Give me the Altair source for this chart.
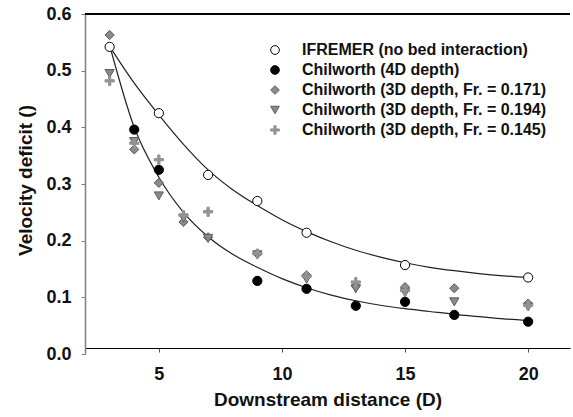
import altair as alt
import pandas as pd

FONT = "Liberation Sans"

series_names = [
    "IFREMER (no bed interaction)",
    "Chilworth (4D depth)",
    "Chilworth (3D depth, Fr. = 0.171)",
    "Chilworth (3D depth, Fr. = 0.194)",
    "Chilworth (3D depth, Fr. = 0.145)",
]

ifremer_x = [3, 5, 7, 9, 11, 15, 20]
ifremer_y = [0.542, 0.425, 0.316, 0.270, 0.214, 0.157, 0.135]

d4_x = [4, 5, 9, 11, 13, 15, 17, 20]
d4_y = [0.396, 0.325, 0.129, 0.115, 0.085, 0.092, 0.069, 0.057]

fr171_x = [3, 4, 5, 6, 7, 9, 11, 13, 15, 17, 20]
fr171_y = [0.563, 0.361, 0.302, 0.233, 0.206, 0.177, 0.139, 0.120, 0.118, 0.116, 0.089]

fr194_x = [3, 4, 5, 6, 7, 9, 11, 13, 15, 17, 20]
fr194_y = [0.495, 0.375, 0.279, 0.240, 0.204, 0.175, 0.132, 0.115, 0.108, 0.092, 0.083]

fr145_x = [3, 4, 5, 6, 7, 9, 11, 13, 15, 20]
fr145_y = [0.482, 0.372, 0.343, 0.245, 0.251, 0.177, 0.137, 0.127, 0.112, 0.086]

# fitted curves
fit_x = [3, 4, 5, 6, 7, 8, 9, 10, 11, 12, 13, 14, 15, 16, 17, 18, 19, 20]
fit_ifremer = [0.543, 0.478, 0.422, 0.370, 0.325, 0.290, 0.262, 0.237, 0.216,
               0.198, 0.183, 0.171, 0.161, 0.153, 0.147, 0.142, 0.138, 0.135]
fit_chil = [0.545, 0.400, 0.312, 0.250, 0.207, 0.176, 0.153, 0.133, 0.117,
            0.104, 0.094, 0.086, 0.080, 0.075, 0.070, 0.066, 0.062, 0.059]

y_ticks = [0.0, 0.1, 0.2, 0.3, 0.4, 0.5, 0.6]
x_ticks = [5, 10, 15, 20]

rows = []
for name, xs, ys in zip(series_names,
                        [ifremer_x, d4_x, fr171_x, fr194_x, fr145_x],
                        [ifremer_y, d4_y, fr171_y, fr194_y, fr145_y]):
    for xv, yv in zip(xs, ys):
        rows.append({"series": name, "x": xv, "y": yv})
pts = pd.DataFrame(rows)

fit_rows = []
for name, ys in [("IFREMER fit", fit_ifremer), ("Chilworth fit", fit_chil)]:
    for xv, yv in zip(fit_x, ys):
        fit_rows.append({"curve": name, "x": xv, "y": yv})
fits = pd.DataFrame(fit_rows)

plus_path = "M-1,-0.25H-0.25V-1H0.25V-0.25H1V0.25H0.25V1H-0.25V0.25H-1Z"
shapes = ["circle", "circle", "diamond", "triangle-down", plus_path]
fills = ["#ffffff", "#000000", "#8a8a8a", "#8a8a8a", "#939393"]
strokes = ["#000000", "#000000", "#5c5c5c", "#5c5c5c", "#939393"]

x_axis = alt.Axis(values=x_ticks, grid=False, offset=-6, domainColor="#000000",
                  domainWidth=1.2, tickColor="#555555", tickSize=4,
                  labelFont=FONT, labelFontSize=18, labelFontWeight="bold",
                  labelColor="#111111", labelPadding=13,
                  title="Downstream distance (D)", titleFont=FONT, titleFontSize=19,
                  titleFontWeight="bold", titleColor="#111111", titlePadding=7)
y_axis = alt.Axis(values=y_ticks, format=".1f", grid=False, domainColor="#808080",
                  domainWidth=1.5, tickColor="#808080", tickSize=4,
                  labelFont=FONT, labelFontSize=18, labelFontWeight="bold",
                  labelColor="#111111", labelPadding=10,
                  title="Velocity deficit ()", titleFont=FONT, titleFontSize=19,
                  titleFontWeight="bold", titleColor="#111111", titleX=-50, titleY=166)

xs = alt.Scale(domain=[2, 21.7], nice=False, zero=False)
ys = alt.Scale(domain=[0, 0.6], nice=False, zero=False)

top_line = alt.Chart(pts).mark_rule(color="#000000", strokeWidth=1.2).encode(
    y=alt.value(0)
)

curves = alt.Chart(fits).mark_line(color="#222222", strokeWidth=1.2,
                                   interpolate="monotone").encode(
    x=alt.X("x:Q", scale=xs, axis=x_axis),
    y=alt.Y("y:Q", scale=ys, axis=y_axis),
    detail="curve:N",
)

legend = alt.Legend(orient="none", legendX=182, legendY=28, title=None,
                    labelFont=FONT, labelFontSize=16, labelFontWeight="bold",
                    labelColor="#111111", labelLimit=320, symbolSize=75,
                    symbolStrokeWidth=1, labelOffset=19, rowPadding=4, padding=0)

points = alt.Chart(pts).mark_point(filled=True, size=85, strokeWidth=1, opacity=1).encode(
    x=alt.X("x:Q", scale=xs, axis=x_axis),
    y=alt.Y("y:Q", scale=ys, axis=y_axis),
    shape=alt.Shape("series:N", scale=alt.Scale(domain=series_names, range=shapes),
                    legend=legend, title=None),
    fill=alt.Fill("series:N", scale=alt.Scale(domain=series_names, range=fills),
                  legend=legend, title=None),
    stroke=alt.Stroke("series:N", scale=alt.Scale(domain=series_names, range=strokes),
                      legend=legend, title=None),
)

chart = alt.layer(top_line, curves, points).properties(
    width=485, height=340,
    autosize=alt.AutoSizeParams(type="none"),
    padding={"left": 85, "top": 14, "right": 3, "bottom": 63},
    background="#ffffff",
).configure_view(stroke=None)

chart.save("out.html", embed_options={"renderer": "svg", "actions": False})
